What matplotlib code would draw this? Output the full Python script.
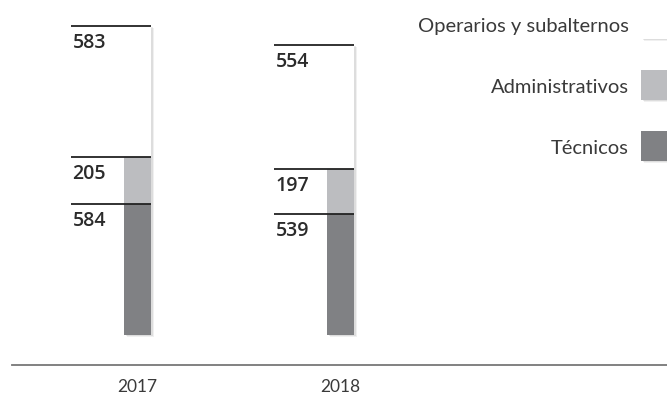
import matplotlib
matplotlib.use("Agg")
import matplotlib.pyplot as plt
from matplotlib.patches import Rectangle
import numpy as np

years = ["2017", "2018"]
series = ["Técnicos", "Administrativos", "Operarios y subalternos"]
tecnicos = [584, 539]
administrativos = [205, 197]
operarios = [583, 554]
colors = ["#808184", "#bcbdc0", "#ffffff"]

W, H = 667, 400
fig = plt.figure(figsize=(W / 100, H / 100), dpi=100)
ax = fig.add_axes([0, 0, 1, 1])
ax.axis("off")

px_x = 203.0  # pixels per category unit
px_y = 0.225  # pixels per value unit
x0_px = 137.5
y0_px = 335.0
ax.set_xlim(-x0_px / px_x, (W - x0_px) / px_x)
ax.set_ylim(-(H - y0_px) / px_y, y0_px / px_y)

NUM_FONT = "Open Sans"
FONT = "Lato"
txt_color = "#2b2b2b"
leg_color = "#3a3a3a"
x = np.arange(len(years))
bw = 27 / px_x

values = [tecnicos, administrativos, operarios]
totals = np.sum(values, axis=0)

# shadows
for off, a in [(3.0, 0.06), (1.5, 0.08)]:
    ax.bar(x + off / px_x, totals, width=bw, bottom=-off / px_y * 0.6,
           color="black", alpha=a, linewidth=0, zorder=1)

bottom = np.zeros(len(years))
for vals, c in zip(values, colors):
    ax.bar(x, vals, width=bw, bottom=bottom, color=c, linewidth=0, zorder=2)
    tops = bottom + np.array(vals)
    for i in range(len(years)):
        xl = x[i] - 0.33
        xr = x[i] + bw / 2
        ax.plot([xl, xr], [tops[i], tops[i]], color="#222222", lw=1.3, zorder=3,
                solid_capstyle="butt")
        ax.annotate(str(vals[i]), (xl, tops[i]), xytext=(1.5, -5),
                    textcoords="offset points", ha="left", va="top",
                    fontsize=14, fontweight=600, color=txt_color,
                    family=NUM_FONT, zorder=4)
    bottom = tops

# baseline
ax.plot([12 / W, 1], [1 - 365 / H] * 2, transform=ax.transAxes,
        color="#777777", lw=1.3)

# year labels
for i, yr in enumerate(years):
    ax.text(x[i], 1 - 387 / H, yr, transform=ax.get_xaxis_transform(),
            ha="center", va="center", fontsize=12.5, color=leg_color,
            family=FONT, fontweight="normal")

# legend
leg_items = [("Operarios y subalternos", colors[2], 9),
             ("Administrativos", colors[1], 70),
             ("Técnicos", colors[0], 131)]
for label, c, ytop in leg_items:
    bx, bwid, bh = 641, 26, 30
    for off, a in [(3.0, 0.06), (1.5, 0.08)]:
        fig.patches.append(Rectangle(((bx + off) / W, 1 - (ytop + bh + off * 0.6) / H),
                                     bwid / W, bh / H, transform=fig.transFigure,
                                     facecolor="black", alpha=a, lw=0))
    fig.patches.append(Rectangle((bx / W, 1 - (ytop + bh) / H), bwid / W, bh / H,
                                 transform=fig.transFigure, facecolor=c, lw=0))
    fig.text(629 / W, 1 - (ytop + bh / 2 + 2.5) / H, label, ha="right", va="center",
             fontsize=14.5, color=leg_color, family=FONT, fontweight="normal")

fig.savefig("out.png", dpi=100, facecolor="white")
